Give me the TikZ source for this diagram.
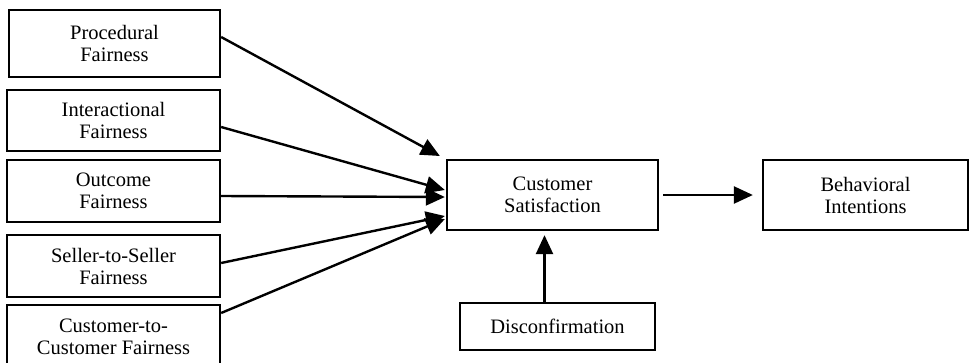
\documentclass[tikz,border=0pt]{standalone}
\usepackage{fontspec}
\setmainfont{Liberation Serif}
\usetikzlibrary{arrows.meta}
\begin{document}
\begin{tikzpicture}[x=1pt,y=-1pt,
  box/.style={draw,line width=2.3pt,align=center,inner sep=0pt,font=\fontsize{20.5}{22}\selectfont},
  arr/.style={line width=2.4pt,-{Triangle[length=19pt,width=17pt]}}]
\useasboundingbox (0,0) rectangle (969,362);
\clip (0,0) rectangle (969,362);
\node[box,minimum width=211pt,minimum height=67pt] (p) at (114.5,43.5) {Procedural\\Fairness};
\node[box,minimum width=213pt,minimum height=61pt] (i) at (113.5,120.5) {Interactional\\Fairness};
\node[box,minimum width=213pt,minimum height=62pt] (o) at (113.5,191) {Outcome\\Fairness};
\node[box,minimum width=213pt,minimum height=62pt] (s) at (113.5,266) {Seller-to-Seller\\Fairness};
\node[box,minimum width=213pt,minimum height=80pt,text depth=16pt] (c) at (113.5,345) {Customer-to-\\Customer Fairness};
\node[box,minimum width=211pt,minimum height=70pt] (cs) at (552.5,195) {Customer\\Satisfaction};
\node[box,minimum width=205pt,minimum height=70pt] (bi) at (865.5,195) {Behavioral\\Intentions};
\node[box,minimum width=195pt,minimum height=47pt] (d) at (557.5,326.5) {Disconfirmation};
\draw[arr] ([yshift=6.5pt]p.east) -- ([xshift=-6pt,yshift=39pt]cs.west);
\draw[arr] ([yshift=-6.5pt]i.east) -- ([xshift=-1pt,yshift=5pt]cs.west);
\draw[arr] ([yshift=-5pt]o.east) -- ([xshift=-1pt,yshift=-2pt]cs.west);
\draw[arr] ([yshift=3pt]s.east) -- ([xshift=-1pt,yshift=-21pt]cs.west);
\draw[arr] ([yshift=32pt]c.east) -- ([xshift=-1pt,yshift=-24pt]cs.west);
\draw[arr] ([xshift=4pt]cs.east) -- ([xshift=-9pt]bi.west);
\draw[arr] ([xshift=-13pt]d.north) -- ([xshift=-8pt,yshift=-4pt]cs.south);
\end{tikzpicture}
\end{document}
